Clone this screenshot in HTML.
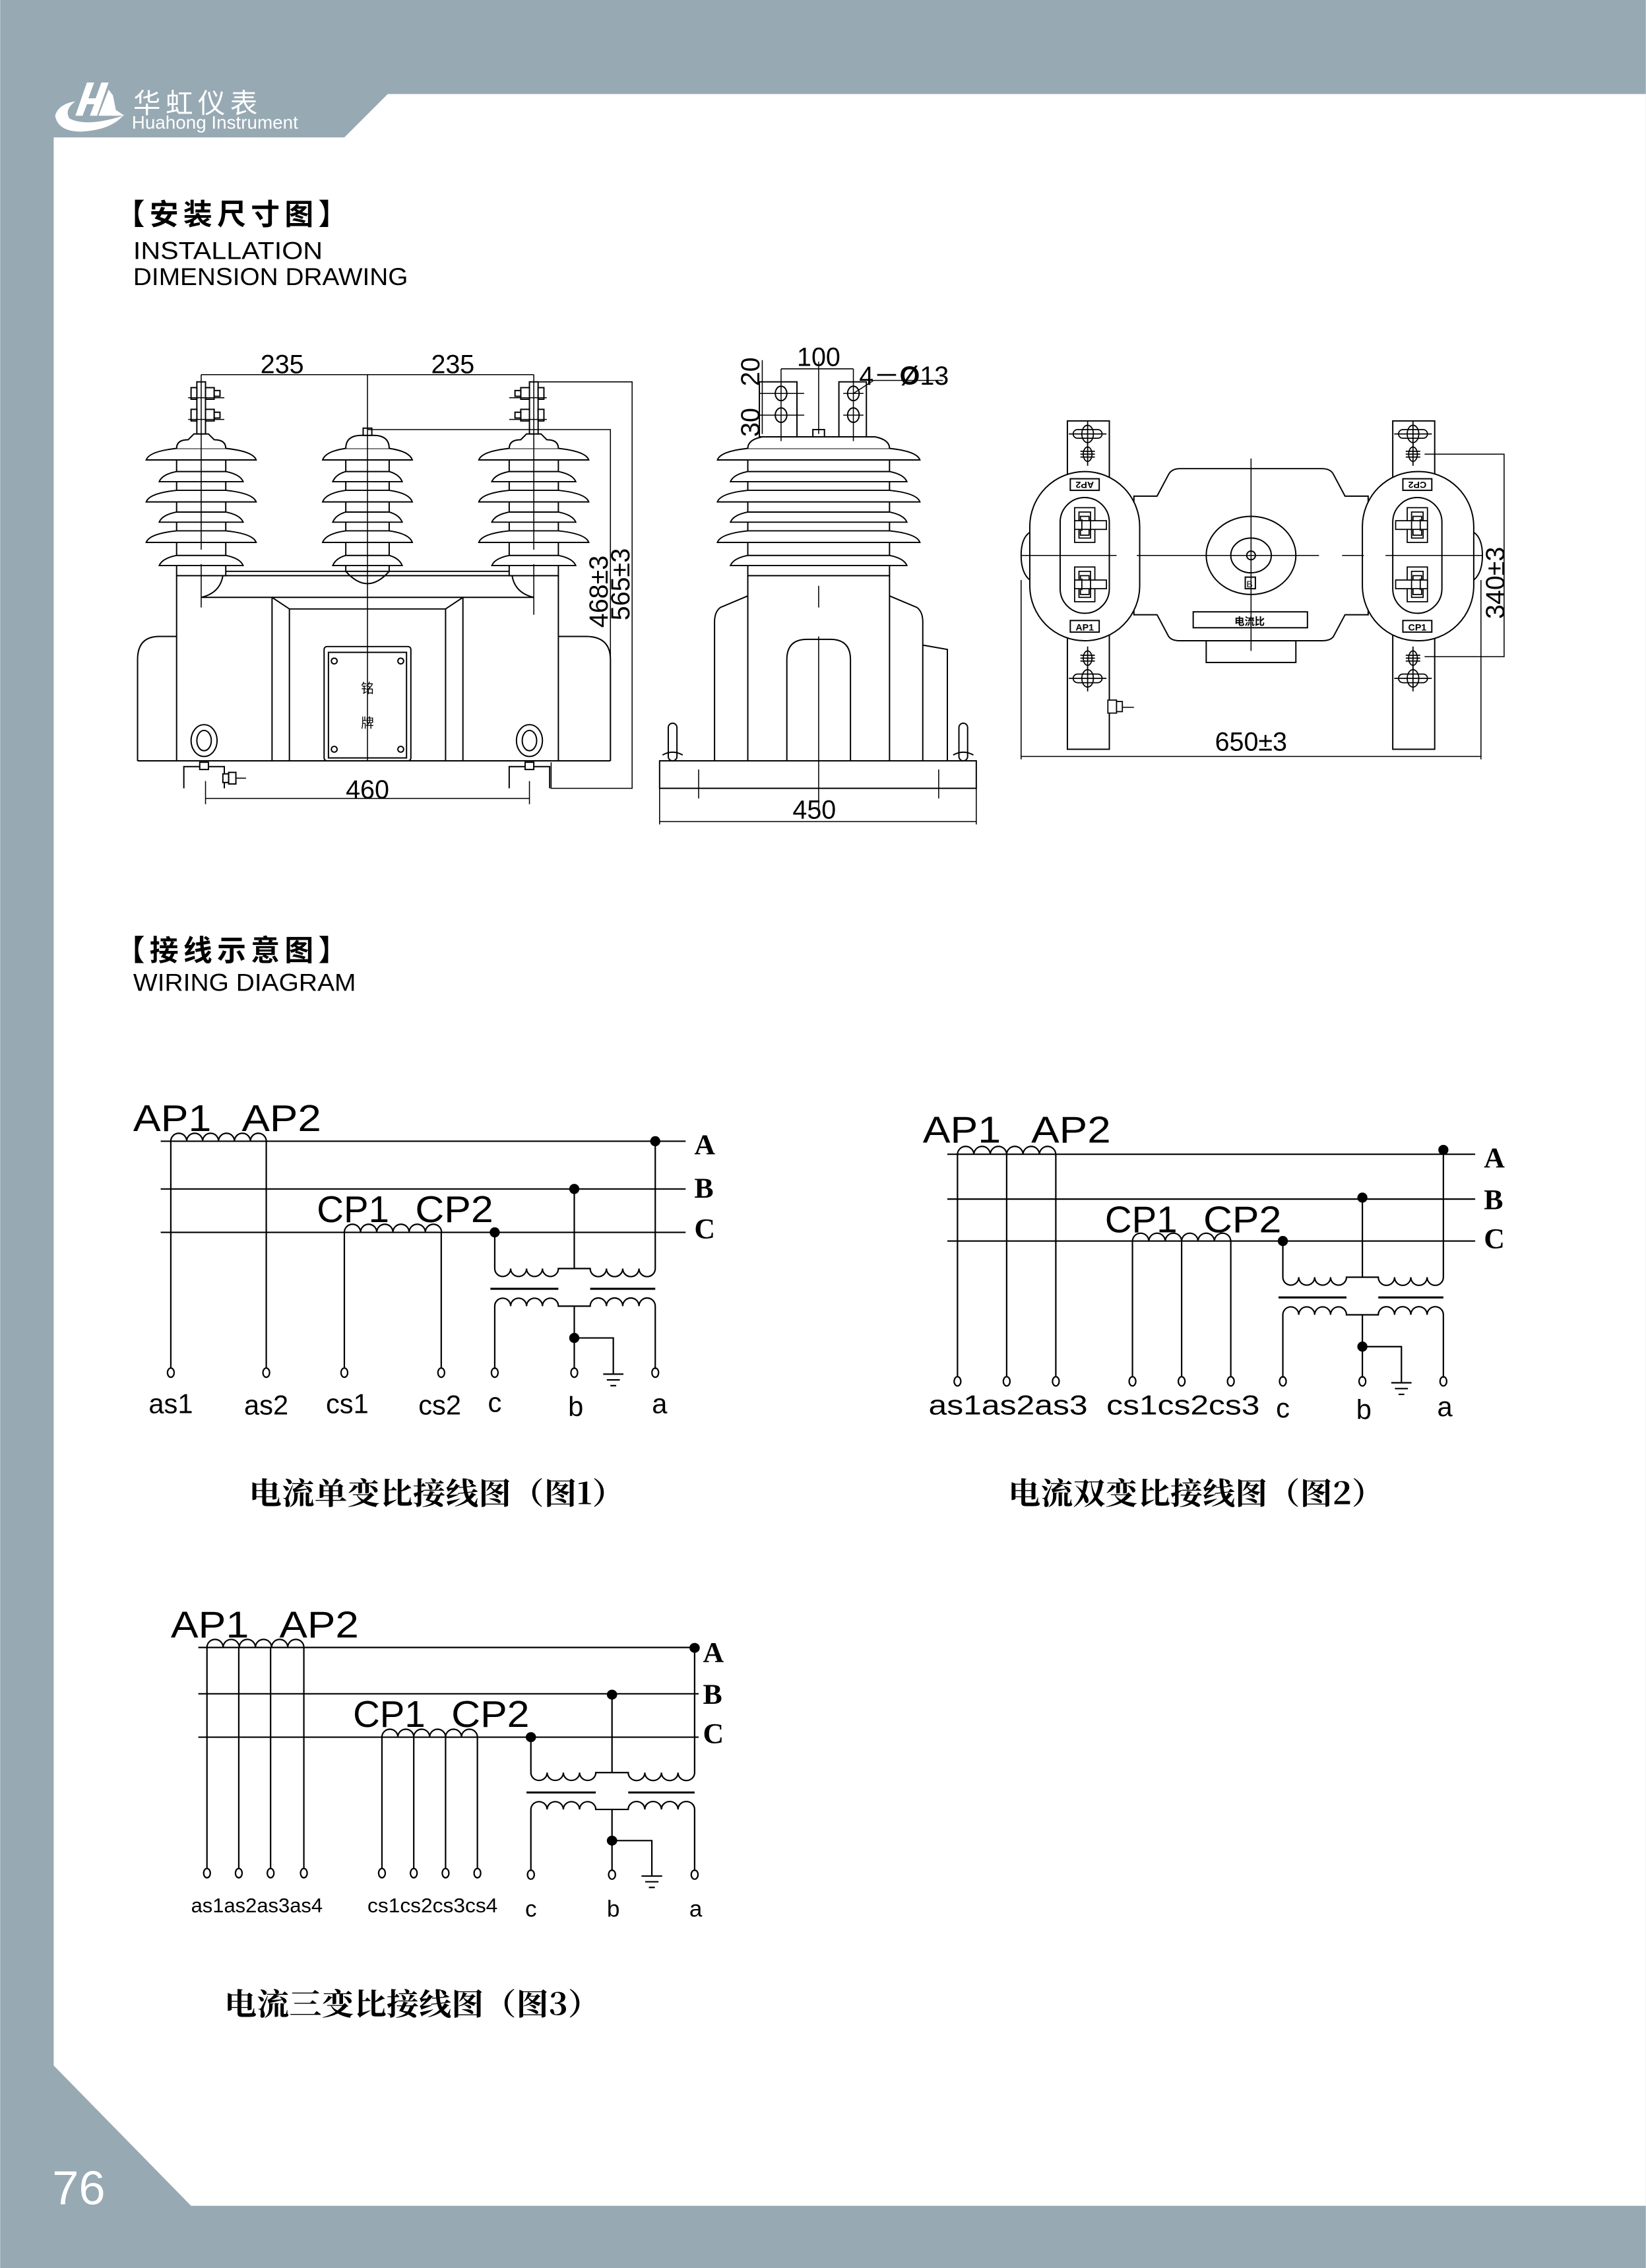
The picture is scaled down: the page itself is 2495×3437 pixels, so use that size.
<!DOCTYPE html>
<html><head><meta charset="utf-8">
<style>
html,body{margin:0;padding:0;background:#fff;}
svg{display:block;}
text{font-family:"Liberation Sans Narrow","Liberation Sans","Noto Sans CJK SC",sans-serif;}
.cad{font-family:"Liberation Sans Narrow","Liberation Sans",sans-serif;}
</style></head>
<body>
<svg width="2495" height="3437" viewBox="0 0 1138 1568" xmlns="http://www.w3.org/2000/svg">
<defs>
<g id="tx" fill="none" stroke="#000" stroke-width="1">
  <path d="M0,0 V25 a5.5,5.5 0 0 0 11,0 a5.5,5.5 0 0 0 11,0 a5.5,5.5 0 0 0 11,0 a5.5,5.5 0 0 0 11,0 H66 a5.6,5.6 0 0 0 11.25,0 a5.6,5.6 0 0 0 11.25,0 a5.6,5.6 0 0 0 11.25,0 a5.6,5.6 0 0 0 11.25,0 V-63"/>
  <path d="M55,-30 V25"/>
  <path d="M-3,39 H44 M66,39 H111" stroke-width="1.4"/>
  <path d="M0,94.5 V51 a5.5,5.5 0 0 1 11,0 a5.5,5.5 0 0 1 11,0 a5.5,5.5 0 0 1 11,0 a5.5,5.5 0 0 1 11,0 H66 a5.6,5.6 0 0 1 11.25,0 a5.6,5.6 0 0 1 11.25,0 a5.6,5.6 0 0 1 11.25,0 a5.6,5.6 0 0 1 11.25,0 V94.5"/>
  <path d="M55,51 V94.5 M55,73 H82 V98 M75,98 H89 M77.5,102 H86.5 M80,106 H84"/>
  <ellipse cx="0" cy="97" rx="2.3" ry="3.2"/><ellipse cx="55" cy="97" rx="2.3" ry="3.2"/><ellipse cx="111" cy="97" rx="2.3" ry="3.2"/>
  <circle cx="0" cy="0" r="3" fill="#000"/><circle cx="55" cy="-30" r="3" fill="#000"/><circle cx="111" cy="-63" r="3" fill="#000"/>
  <circle cx="55" cy="73" r="3" fill="#000"/>
</g>
<g id="slot" fill="none" stroke="#000" stroke-width="0.8">
  <rect x="-10" y="-3" width="20" height="6" rx="3"/><ellipse cx="0" cy="0" rx="4" ry="6"/><path d="M-13,0 H13 M0,-9 V9"/>
</g>
<g id="slot2" fill="none" stroke="#000" stroke-width="0.8">
  <ellipse cx="0" cy="0" rx="3" ry="5"/><path d="M-5,0 H5 M-5,-2 H5 M-5,2 H5 M0,-8 V8"/>
</g>
<g id="termL" fill="#fff" stroke="#000" stroke-width="0.8">
  <rect x="-7" y="-12" width="14" height="24"/><rect x="-4" y="-9" width="8" height="18"/><rect x="-3" y="-6" width="6" height="13"/>
  <rect x="-7" y="-3" width="22" height="6"/><path d="M-2,-4 V4 M4,-4 V4"/>
</g>
<g id="termR" fill="#fff" stroke="#000" stroke-width="0.8">
  <rect x="-7" y="-12" width="14" height="24"/><rect x="-4" y="-9" width="8" height="18"/><rect x="-3" y="-6" width="6" height="13"/>
  <rect x="-15" y="-3" width="22" height="6"/><path d="M2,-4 V4 M-4,-4 V4"/>
</g>
</defs>

<rect width="1138" height="1568" fill="#97a9b3"/>
<polygon points="37,95 238,95 268,65 1138,65 1138,1525 132,1525 37,1428" fill="#fff"/>

<g fill="#fff">
  <path d="M38,80 Q40,72 52,70 Q44,76 48,82 Q60,88 85,80 Q76,90 56,91 Q40,91 38,80Z"/>
  <polygon points="52,80 60,57 65,57 61,68 66,68 70,57 75,57 67,80 62,80 65,72 60,72 57,80"/>
  <polygon points="68,80 75,62 78,66 80,76 86,80"/>
</g>
<text x="92" y="78" fill="#fff" font-size="19" style="font-family:'Noto Sans CJK SC',sans-serif" textLength="86">华虹仪表</text>
<text x="91" y="89" fill="#fff" font-size="12.5" textLength="115" lengthAdjust="spacingAndGlyphs">Huahong Instrument</text>

<text x="80" y="155" font-size="20" font-weight="bold" style="font-family:'Noto Sans CJK SC',sans-serif" textLength="160">【安装尺寸图】</text>
<text x="92" y="179" font-size="17" textLength="131" lengthAdjust="spacingAndGlyphs">INSTALLATION</text>
<text x="92" y="197" font-size="17" textLength="190" lengthAdjust="spacingAndGlyphs">DIMENSION DRAWING</text>
<text x="80" y="664" font-size="20" font-weight="bold" style="font-family:'Noto Sans CJK SC',sans-serif" textLength="160">【接线示意图】</text>
<text x="92" y="685" font-size="17" textLength="154" lengthAdjust="spacingAndGlyphs">WIRING DIAGRAM</text>

<!-- FRONT VIEW -->
<g fill="none" stroke="#000" stroke-width="0.9">
  <path d="M95,526 V456 Q95,440 110,440 H122 M386,440 H405 Q422,440 422,456 V526"/>
  <path d="M95,526 H422"/>
  <path d="M122,398 V526 M386,398 V526"/>
  <path d="M156,395 H239 Q254,412 269,395 H352"/>
  <path d="M154,398 H354 Q356,410 369,413 H139 Q152,410 154,398"/>
  <path d="M188,413 L200,421 H308 L320,413 M188,413 V526 M200,421 V526 M308,421 V526 M320,413 V526"/>
  <rect x="224" y="447" width="60" height="79" rx="2"/>
  <rect x="227" y="451" width="54" height="73"/>
  <circle cx="231" cy="457" r="2"/><circle cx="277" cy="457" r="2"/><circle cx="231" cy="518" r="2"/><circle cx="277" cy="518" r="2"/>
  <rect x="122" y="310" width="34" height="88" fill="#fff"/>
  <rect x="239" y="310" width="30" height="85" fill="#fff"/>
  <rect x="352" y="310" width="34" height="88" fill="#fff"/>
</g>
<text x="254" y="479" font-size="9" text-anchor="middle" style="font-family:'Noto Sans CJK SC',sans-serif">铭</text>
<text x="254" y="503" font-size="9" text-anchor="middle" style="font-family:'Noto Sans CJK SC',sans-serif">牌</text>
<g fill="#fff" stroke="#000" stroke-width="0.9">
  <path d="M101,318 Q103,312 122,310 H156 Q175,312 177,318 Z"/>
  <path d="M110,333 Q112,328 122,326 H156 Q166,328 168,333 Z"/>
  <path d="M101,347 Q103,341 122,339 H156 Q175,341 177,347 Z"/>
  <path d="M110,361 Q112,356 122,354 H156 Q166,356 168,361 Z"/>
  <path d="M101,375 Q103,369 122,367 H156 Q175,369 177,375 Z"/>
  <path d="M110,391 Q112,386 122,384 H156 Q166,386 168,391 Z"/>
  <path d="M122,310 Q122,304 130,304 L134,300 H144 L148,304 Q156,304 156,310"/>
  <path d="M223,318 Q225,312 239,310 H269 Q283,312 285,318 Z"/>
  <path d="M230,333 Q232,328 239,326 H269 Q276,328 278,333 Z"/>
  <path d="M223,347 Q225,341 239,339 H269 Q283,341 285,347 Z"/>
  <path d="M230,361 Q232,356 239,354 H269 Q276,356 278,361 Z"/>
  <path d="M223,375 Q225,369 239,367 H269 Q283,369 285,375 Z"/>
  <path d="M230,391 Q232,386 239,384 H269 Q276,386 278,391 Z"/>
  <path d="M239,310 Q239,301 250,301 H258 Q269,301 269,310"/>
  <path d="M331,318 Q333,312 352,310 H386 Q405,312 407,318 Z"/>
  <path d="M340,333 Q342,328 352,326 H386 Q396,328 398,333 Z"/>
  <path d="M331,347 Q333,341 352,339 H386 Q405,341 407,347 Z"/>
  <path d="M340,361 Q342,356 352,354 H386 Q396,356 398,361 Z"/>
  <path d="M331,375 Q333,369 352,367 H386 Q405,369 407,375 Z"/>
  <path d="M340,391 Q342,386 352,384 H386 Q396,386 398,391 Z"/>
  <path d="M352,310 Q352,304 360,304 L364,300 H374 L378,304 Q386,304 386,310"/>
  <rect x="136" y="264" width="6" height="36"/>
  <rect x="366" y="264" width="6" height="36"/>
  <rect x="251" y="296" width="6" height="5"/>
  <rect x="132" y="268" width="4" height="8"/><rect x="142" y="268" width="6" height="8"/><rect x="148" y="270" width="4" height="4"/>
  <rect x="132" y="283" width="4" height="8"/><rect x="142" y="283" width="6" height="8"/><rect x="148" y="285" width="4" height="4"/>
  <rect x="372" y="268" width="4" height="8"/><rect x="360" y="268" width="6" height="8"/><rect x="356" y="270" width="4" height="4"/>
  <rect x="372" y="283" width="4" height="8"/><rect x="360" y="283" width="6" height="8"/><rect x="356" y="285" width="4" height="4"/>
  <ellipse cx="141" cy="512" rx="9" ry="11"/><ellipse cx="141" cy="512" rx="5" ry="7"/>
  <ellipse cx="366" cy="512" rx="9" ry="11"/><ellipse cx="366" cy="512" rx="5" ry="7"/>
  <path d="M127,545 V530 H155 V545" fill="none"/><path d="M352,545 V530 H380 V545" fill="none"/>
  <rect x="138" y="527" width="6" height="5"/><rect x="363" y="527" width="6" height="5"/>
  <rect x="154" y="535" width="4" height="6"/><rect x="158" y="534" width="5" height="8"/>
</g>
<g fill="none" stroke="#000" stroke-width="0.7">
  <path d="M130,275 H155 M130,290 H155 M352,275 H378 M352,290 H378"/>
  <path d="M139,259 H369 M139,259 V380 M139,390 V420 M369,259 V380 M369,390 V425 M254,259 V526"/>
  <path d="M369,264 H437 V545 H381 V527 M254,297 H422 V526"/>
  <path d="M142,540 V556 M366,540 V556 M142,552 H366"/>
  <path d="M163,538 H170"/>
</g>
<g class="cad" font-size="18">
<text x="195" y="258" text-anchor="middle">235</text>
<text x="313" y="258" text-anchor="middle">235</text>
<text x="254" y="552" text-anchor="middle">460</text>
<text transform="translate(420,409) rotate(-90)" text-anchor="middle">468±3</text>
<text transform="translate(435,404) rotate(-90)" text-anchor="middle">565±3</text>
</g>

<!-- SIDE VIEW -->
<g fill="none" stroke="#000" stroke-width="0.9">
  <rect x="456" y="526" width="219" height="19"/>
  <path d="M517,398 V526 M615,398 V526"/>
  <path d="M517,412 L498,420 Q494,423 494,430 V526 M615,412 L634,420 Q638,423 638,430 V526"/>
  <path d="M544,526 V456 Q544,442 558,442 H574 Q588,442 588,456 V526"/>
  <path d="M638,446 L655,449 V526"/>
  <rect x="462" y="500" width="6" height="26" rx="3"/><rect x="663" y="500" width="6" height="26" rx="3"/>
  <path d="M458,522 Q465,518 472,522 M659,522 Q666,518 673,522"/>
</g>
<g fill="#fff" stroke="#000" stroke-width="0.9">
  <rect x="517" y="310" width="98" height="88"/>
  <path d="M496,318 Q498,312 517,310 H615 Q634,312 636,318 Z"/>
  <path d="M505,333 Q507,328 517,326 H615 Q625,328 627,333 Z"/>
  <path d="M496,347 Q498,341 517,339 H615 Q634,341 636,347 Z"/>
  <path d="M505,361 Q507,356 517,354 H615 Q625,356 627,361 Z"/>
  <path d="M496,375 Q498,369 517,367 H615 Q634,369 636,375 Z"/>
  <path d="M505,391 Q507,386 517,384 H615 Q625,386 627,391 Z"/>
  <path d="M517,310 Q517,304 527,302 H605 Q615,304 615,310"/>
  <rect x="525" y="264" width="26" height="38"/>
  <rect x="580" y="264" width="19" height="38"/>
  <rect x="562" y="297" width="8" height="5"/>
  <ellipse cx="540" cy="272" rx="4" ry="5"/><ellipse cx="540" cy="287" rx="4" ry="5"/>
  <ellipse cx="590" cy="272" rx="4" ry="5"/><ellipse cx="590" cy="287" rx="4" ry="5"/>
</g>
<g fill="none" stroke="#000" stroke-width="0.7">
  <path d="M566,250 V300 M566,405 V420 M566,440 V560 M483,532 V552 M649,532 V552"/>
  <path d="M540,255 H590 M540,255 V305 M590,255 V305 M525,272 H556 M525,287 H556 M583,272 H597 M583,287 H597 M590,272 L604,263 H652"/>
  <path d="M527,249 V300 M456,545 V570 M675,545 V570 M456,568 H675"/>
</g>
<g class="cad" font-size="18">
<text x="566" y="253" text-anchor="middle">100</text>
<text x="594" y="266">4－<tspan font-weight="bold">Ø</tspan>13</text>
<text transform="translate(525,257) rotate(-90)" text-anchor="middle">20</text>
<text transform="translate(525,292) rotate(-90)" text-anchor="middle">30</text>
<text x="563" y="566" text-anchor="middle">450</text>
</g>

<!-- TOP VIEW -->
<g fill="none" stroke="#000" stroke-width="0.9">
  <rect x="738" y="291" width="29" height="227"/>
  <rect x="963" y="291" width="29" height="227"/>
  <path d="M712,368 Q706,372 706,384 Q706,396 712,401 M1019,368 Q1025,372 1025,384 Q1025,396 1019,401"/>
  <rect x="834" y="443" width="62" height="15"/>
</g>
<g fill="#fff" stroke="#000" stroke-width="0.9">
  <path d="M784,343 H800 L808,328 Q810,324 816,324 H914 Q920,324 922,328 L930,343 H946 V425 H930 L922,440 Q920,443 914,443 H816 Q810,443 808,440 L800,425 H784 Z"/>
  <rect x="712" y="326" width="76" height="117" rx="38"/>
  <rect x="733" y="344" width="34" height="80" rx="17"/>
  <rect x="942" y="326" width="77" height="117" rx="38"/>
  <rect x="963" y="344" width="34" height="80" rx="17"/>
  <ellipse cx="865" cy="384" rx="31" ry="27"/>
  <ellipse cx="865" cy="384" rx="14" ry="12"/>
  <circle cx="865" cy="384" r="3"/>
  <rect x="861" y="399" width="7" height="8"/>
  <rect x="825" y="423" width="79" height="11"/>
  <rect x="740" y="331" width="20" height="8"/><rect x="740" y="429" width="20" height="8"/>
  <rect x="970" y="331" width="20" height="8"/><rect x="970" y="429" width="20" height="8"/>
</g>
<use href="#termL" x="750" y="363"/>
<use href="#termL" x="750" y="404"/>
<use href="#termR" x="980" y="363"/>
<use href="#termR" x="980" y="404"/>
<use href="#slot" x="752" y="300"/><use href="#slot2" x="752" y="314"/>
<use href="#slot" x="752" y="469"/><use href="#slot2" x="752" y="455"/>
<use href="#slot" x="977" y="300"/><use href="#slot2" x="977" y="314"/>
<use href="#slot" x="977" y="469"/><use href="#slot2" x="977" y="455"/>
<g fill="#fff" stroke="#000" stroke-width="0.8">
  <rect x="766" y="484" width="6" height="9"/><rect x="772" y="485" width="4" height="7"/>
</g>
<g fill="none" stroke="#000" stroke-width="0.7">
  <path d="M706,384 H772 M786,384 H912 M928,384 H943 M958,384 H1025 M865,317 V450 M776,489 H784"/>
  <path d="M706,401 V525 M1024,401 V525 M706,523 H1024"/>
  <path d="M985,314 H1040 V454 H985"/>
</g>
<text x="750" y="337" font-size="6.5" font-weight="bold" text-anchor="middle" transform="rotate(180,750,335)">AP2</text>
<text x="750" y="436" font-size="6.5" font-weight="bold" text-anchor="middle">AP1</text>
<text x="980" y="337" font-size="6.5" font-weight="bold" text-anchor="middle" transform="rotate(180,980,335)">CP2</text>
<text x="980" y="436" font-size="6.5" font-weight="bold" text-anchor="middle">CP1</text>
<text x="864" y="406" font-size="6.5" text-anchor="middle">B</text>
<text x="864" y="432" font-size="7" font-weight="bold" text-anchor="middle" style="font-family:'Noto Sans CJK SC',sans-serif">电流比</text>
<g class="cad" font-size="18">
<text x="865" y="519" text-anchor="middle">650±3</text>
<text transform="translate(1040,403) rotate(-90)" text-anchor="middle">340±3</text>
</g>

<!-- WIRING 1 -->
<g fill="none" stroke="#000" stroke-width="1">
  <path d="M111,789 H474 M111,822 H474 M111,852 H474"/>
  <path d="M118,789 a5.5,5.5 0 0 1 11,0 a5.5,5.5 0 0 1 11,0 a5.5,5.5 0 0 1 11,0 a5.5,5.5 0 0 1 11,0 a5.5,5.5 0 0 1 11,0 a5.5,5.5 0 0 1 11,0"/>
  <path d="M238,852 a5.6,5.6 0 0 1 11.2,0 a5.6,5.6 0 0 1 11.2,0 a5.6,5.6 0 0 1 11.2,0 a5.6,5.6 0 0 1 11.2,0 a5.6,5.6 0 0 1 11.2,0 a5.6,5.6 0 0 1 11.2,0"/>
  <path d="M118,789 V946 M184,789 V946 M238,852 V946 M305,852 V946"/>
  <ellipse cx="118" cy="949" rx="2.3" ry="3.2"/><ellipse cx="184" cy="949" rx="2.3" ry="3.2"/><ellipse cx="238" cy="949" rx="2.3" ry="3.2"/><ellipse cx="305" cy="949" rx="2.3" ry="3.2"/>
</g>
<use href="#tx" x="342" y="852"/>
<g class="cad" font-size="26">
<text x="92" y="782" textLength="54" lengthAdjust="spacingAndGlyphs">AP1</text>
<text x="167" y="782" textLength="55" lengthAdjust="spacingAndGlyphs">AP2</text>
<text x="219" y="845" textLength="50" lengthAdjust="spacingAndGlyphs">CP1</text>
<text x="287" y="845" textLength="54" lengthAdjust="spacingAndGlyphs">CP2</text>
</g>
<text x="480" y="798" font-size="20" font-weight="bold" style="font-family:'Liberation Serif',serif">A</text>
<text x="480" y="828" font-size="20" font-weight="bold" style="font-family:'Liberation Serif',serif">B</text>
<text x="480" y="856" font-size="20" font-weight="bold" style="font-family:'Liberation Serif',serif">C</text>
<g class="cad" font-size="19" text-anchor="middle">
<text x="118" y="977">as1</text><text x="184" y="978">as2</text><text x="240" y="977">cs1</text><text x="304" y="978">cs2</text>
<text x="342" y="976">c</text><text x="398" y="979">b</text><text x="456" y="977">a</text>
</g>
<text x="172" y="1040" font-size="21" style="font-family:'Noto Serif CJK SC','Noto Sans CJK SC',serif" font-weight="bold" textLength="260" lengthAdjust="spacingAndGlyphs">电流单变比接线图（图1）</text>

<!-- WIRING 2 -->
<g fill="none" stroke="#000" stroke-width="1">
  <path d="M655,798 H1020 M655,829 H1020 M655,858 H1020"/>
  <path d="M662,798 a5.67,5.67 0 0 1 11.33,0 a5.67,5.67 0 0 1 11.33,0 a5.67,5.67 0 0 1 11.33,0 a5.67,5.67 0 0 1 11.33,0 a5.67,5.67 0 0 1 11.33,0 a5.67,5.67 0 0 1 11.33,0"/>
  <path d="M783,858 a5.67,5.67 0 0 1 11.33,0 a5.67,5.67 0 0 1 11.33,0 a5.67,5.67 0 0 1 11.33,0 a5.67,5.67 0 0 1 11.33,0 a5.67,5.67 0 0 1 11.33,0 a5.67,5.67 0 0 1 11.33,0"/>
  <path d="M662,798 V952 M696,798 V952 M730,798 V952 M783,858 V952 M817,858 V952 M851,858 V952"/>
  <ellipse cx="662" cy="955" rx="2.3" ry="3.2"/><ellipse cx="696" cy="955" rx="2.3" ry="3.2"/><ellipse cx="730" cy="955" rx="2.3" ry="3.2"/>
  <ellipse cx="783" cy="955" rx="2.3" ry="3.2"/><ellipse cx="817" cy="955" rx="2.3" ry="3.2"/><ellipse cx="851" cy="955" rx="2.3" ry="3.2"/>
</g>
<use href="#tx" x="887" y="858"/>
<g class="cad" font-size="26">
<text x="638" y="790" textLength="54" lengthAdjust="spacingAndGlyphs">AP1</text>
<text x="713" y="790" textLength="55" lengthAdjust="spacingAndGlyphs">AP2</text>
<text x="764" y="852" textLength="50" lengthAdjust="spacingAndGlyphs">CP1</text>
<text x="832" y="852" textLength="54" lengthAdjust="spacingAndGlyphs">CP2</text>
</g>
<text x="1026" y="807" font-size="20" font-weight="bold" style="font-family:'Liberation Serif',serif">A</text>
<text x="1026" y="836" font-size="20" font-weight="bold" style="font-family:'Liberation Serif',serif">B</text>
<text x="1026" y="863" font-size="20" font-weight="bold" style="font-family:'Liberation Serif',serif">C</text>
<g class="cad" font-size="19">
<text x="642" y="978" textLength="110" lengthAdjust="spacingAndGlyphs">as1as2as3</text>
<text x="765" y="978" textLength="106" lengthAdjust="spacingAndGlyphs">cs1cs2cs3</text>
</g>
<g class="cad" font-size="19" text-anchor="middle"><text x="887" y="980">c</text><text x="943" y="981">b</text><text x="999" y="979">a</text></g>
<text x="697" y="1040" font-size="21" style="font-family:'Noto Serif CJK SC','Noto Sans CJK SC',serif" font-weight="bold" textLength="260" lengthAdjust="spacingAndGlyphs">电流双变比接线图（图2）</text>

<!-- WIRING 3 -->
<g fill="none" stroke="#000" stroke-width="1">
  <path d="M137,1139 H483 M137,1171 H483 M137,1201 H483"/>
  <path d="M143,1139 a5.58,5.58 0 0 1 11.17,0 a5.58,5.58 0 0 1 11.17,0 a5.58,5.58 0 0 1 11.17,0 a5.58,5.58 0 0 1 11.17,0 a5.58,5.58 0 0 1 11.17,0 a5.58,5.58 0 0 1 11.17,0"/>
  <path d="M264,1201 a5.5,5.5 0 0 1 11,0 a5.5,5.5 0 0 1 11,0 a5.5,5.5 0 0 1 11,0 a5.5,5.5 0 0 1 11,0 a5.5,5.5 0 0 1 11,0 a5.5,5.5 0 0 1 11,0"/>
  <path d="M143,1139 V1292 M165,1139 V1292 M187,1139 V1292 M210,1139 V1292 M264,1201 V1292 M286,1201 V1292 M308,1201 V1292 M330,1201 V1292"/>
  <ellipse cx="143" cy="1295" rx="2.3" ry="3.2"/><ellipse cx="165" cy="1295" rx="2.3" ry="3.2"/><ellipse cx="187" cy="1295" rx="2.3" ry="3.2"/><ellipse cx="210" cy="1295" rx="2.3" ry="3.2"/>
  <ellipse cx="264" cy="1295" rx="2.3" ry="3.2"/><ellipse cx="286" cy="1295" rx="2.3" ry="3.2"/><ellipse cx="308" cy="1295" rx="2.3" ry="3.2"/><ellipse cx="330" cy="1295" rx="2.3" ry="3.2"/>
</g>
<g transform="translate(367,1201) scale(1.02,0.98)"><use href="#tx"/></g>
<g class="cad" font-size="26">
<text x="118" y="1132" textLength="54" lengthAdjust="spacingAndGlyphs">AP1</text>
<text x="193" y="1132" textLength="55" lengthAdjust="spacingAndGlyphs">AP2</text>
<text x="244" y="1194" textLength="50" lengthAdjust="spacingAndGlyphs">CP1</text>
<text x="312" y="1194" textLength="54" lengthAdjust="spacingAndGlyphs">CP2</text>
</g>
<text x="486" y="1149" font-size="20" font-weight="bold" style="font-family:'Liberation Serif',serif">A</text>
<text x="486" y="1178" font-size="20" font-weight="bold" style="font-family:'Liberation Serif',serif">B</text>
<text x="486" y="1205" font-size="20" font-weight="bold" style="font-family:'Liberation Serif',serif">C</text>
<g class="cad" font-size="14">
<text x="132" y="1322" textLength="91" lengthAdjust="spacingAndGlyphs">as1as2as3as4</text>
<text x="254" y="1322" textLength="90" lengthAdjust="spacingAndGlyphs">cs1cs2cs3cs4</text>
</g>
<g class="cad" font-size="16" text-anchor="middle"><text x="367" y="1325">c</text><text x="424" y="1325">b</text><text x="481" y="1325">a</text></g>
<text x="155" y="1393" font-size="21" style="font-family:'Noto Serif CJK SC','Noto Sans CJK SC',serif" font-weight="bold" textLength="260" lengthAdjust="spacingAndGlyphs">电流三变比接线图（图3）</text>

<text x="36" y="1524" font-size="33" fill="#fff" style="font-family:'Liberation Sans',sans-serif">76</text>
</svg>
</body></html>
